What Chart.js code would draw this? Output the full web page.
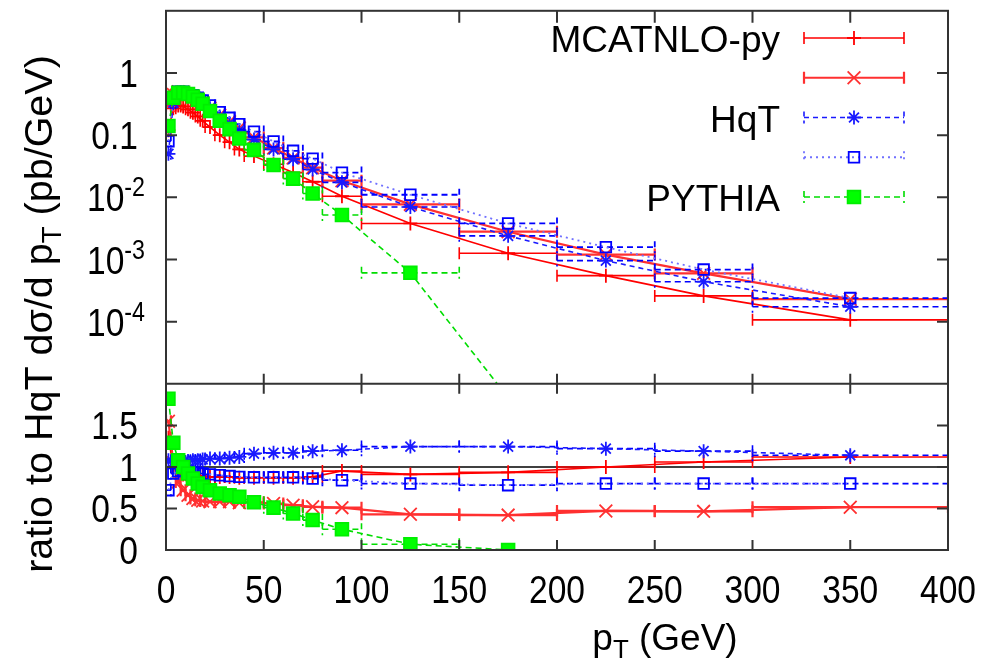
<!DOCTYPE html>
<html>
<head>
<meta charset="utf-8">
<script src="https://cdn.jsdelivr.net/npm/chart.js@4.4.1/dist/chart.umd.min.js"></script>
<style>
  html, body { margin: 0; padding: 0; background: #fff; }
  #wrap { position: relative; width: 987px; height: 670px; }
</style>
</head>
<body>
<div id="wrap"><canvas id="pt" width="987" height="670"></canvas></div>
<script>
// ---- pT bins (GeV) ----
const binLo  = [0, 2.5, 5, 7.5, 10, 12.5, 15, 17.5, 20, 25, 30, 35, 40, 50, 60, 70, 80, 100, 150, 200, 250, 300];
const binHi  = [2.5, 5, 7.5, 10, 12.5, 15, 17.5, 20, 25, 30, 35, 40, 50, 60, 70, 80, 100, 150, 200, 250, 300, 400];
const binMid = [1.25, 3.75, 6.25, 8.75, 11.25, 13.75, 16.25, 18.75, 22.5, 27.5, 32.5, 37.5, 45, 55, 65, 75, 90, 125, 175, 225, 275, 350];

// ---- top panel: dsigma/dpT (pb/GeV) ----
const mcPlus  = [0.12, 0.27, 0.30, 0.29, 0.26, 0.23, 0.20, 0.17, 0.135, 0.10, 0.077, 0.059, 0.046, 0.034, 0.025, 0.0178, 0.0104, 0.0038, 0.00126, 0.00055, 0.00026, 0.000107];
const mcCross = [0.30, 0.45, 0.50, 0.49, 0.46, 0.42, 0.38, 0.34, 0.27, 0.21, 0.165, 0.13, 0.092, 0.062, 0.043, 0.030, 0.0185, 0.0077, 0.0028, 0.0012, 0.0006, 0.00023];
const hqtStar = [0.05, 0.33, 0.46, 0.47, 0.45, 0.41, 0.37, 0.33, 0.27, 0.20, 0.155, 0.12, 0.085, 0.059, 0.041, 0.028, 0.0174, 0.0070, 0.0024, 0.00096, 0.00044, 0.000174];
const hqtBox  = [0.08, 0.38, 0.50, 0.50, 0.47, 0.44, 0.40, 0.36, 0.30, 0.235, 0.19, 0.15, 0.114, 0.079, 0.056, 0.042, 0.025, 0.011, 0.0038, 0.00158, 0.00069, 0.00024];
const pythia  = [0.14, 0.40, 0.48, 0.48, 0.46, 0.42, 0.37, 0.32, 0.245, 0.17, 0.125, 0.088, 0.058, 0.033, 0.020, 0.0115, 0.0052, 0.00061, 0.000006];

// ---- bottom panel: ratio to HqT ----
const ratioMcPlus  = [1.35, 1.0, 0.93, 0.91, 0.90, 0.90, 0.89, 0.89, 0.88, 0.88, 0.88, 0.87, 0.87, 0.87, 0.87, 0.88, 0.95, 0.91, 0.935, 1.0, 1.06, 1.12];
const ratioMcCross = [1.55, 1.05, 0.82, 0.72, 0.66, 0.62, 0.60, 0.59, 0.58, 0.58, 0.58, 0.57, 0.575, 0.56, 0.54, 0.52, 0.51, 0.43, 0.42, 0.47, 0.465, 0.515];
const ratioStar    = [1.08, 1.05, 1.05, 1.06, 1.07, 1.08, 1.08, 1.09, 1.10, 1.10, 1.11, 1.12, 1.16, 1.17, 1.17, 1.19, 1.20, 1.245, 1.245, 1.22, 1.19, 1.14];
const ratioBox     = [0.72, 0.92, 0.95, 0.95, 0.94, 0.94, 0.93, 0.92, 0.91, 0.90, 0.89, 0.88, 0.875, 0.875, 0.875, 0.86, 0.84, 0.80, 0.78, 0.80, 0.80, 0.80];
const ratioPythia  = [1.82, 1.29, 1.08, 1.0, 0.92, 0.86, 0.80, 0.76, 0.72, 0.68, 0.66, 0.64, 0.575, 0.51, 0.44, 0.36, 0.25, 0.07, 0.0];
const ratioOne = 1;

// ---- axes ----
const xTicks = [0, 50, 100, 150, 200, 250, 300, 350, 400];
const logTicks = [1, 0.1, 0.01, 0.001, 0.0001];
const logTickLabels = [['1', ''], ['0.1', ''], ['10', '-2'], ['10', '-3'], ['10', '-4']];
const ratioTicks = [0, 0.5, 1, 1.5];
const ratioTickLabels = ['0', '0.5', '1', '1.5'];
const legendLabels = ['MCATNLO-py', '', 'HqT', '', 'PYTHIA'];

const txtFont = (s) => `${s}px "Liberation Sans", Arial, sans-serif`;
const NARROW = 0.86;

function pts(vals) {
    return vals.map((v, i) => ({ x: binMid[i], y: v }));
}

// style of each curve, shared by both panels
const styles = [
    { color: '#ff0000', width: 1.6, dash: [], point: 'cross', radius: 7, fill: 'transparent', barColor: '#ff0000', barDash: [] },
    { color: '#ff3030', width: 2.2, dash: [], point: 'crossRot', radius: 9, fill: 'transparent', barColor: '#ff3030', barDash: [] },
    { color: '#1a1aff', width: 1.6, dash: [5, 4], point: 'star', radius: 7, fill: 'transparent', barColor: '#0000ff', barDash: [6, 4] },
    { color: '#7070ff', width: 1.8, dash: [2, 4], point: 'rect', radius: 7.5, fill: 'transparent', pointColor: '#0000ff', barColor: '#0000ff', barDash: [6, 4] },
    { color: '#00dd00', width: 1.6, dash: [6, 4], point: 'rect', radius: 9, fill: '#00ff00', pointColor: '#00ee00', barColor: '#00dd00', barDash: [6, 4] },
];

function makeSet(vals, k, axis) {
    const s = styles[k];
    return {
        data: pts(vals),
        yAxisID: axis,
        borderColor: s.color,
        borderWidth: s.width,
        borderDash: s.dash,
        pointStyle: s.point,
        pointRadius: s.radius,
        pointBorderWidth: 1.8,
        pointBorderColor: s.pointColor || s.color,
        pointBackgroundColor: s.fill,
        tension: 0,
        order: 10 - k,
        xLo: binLo, xHi: binHi,
        barColor: s.barColor, barDash: s.barDash,
    };
}

const datasets = [
    makeSet(mcPlus, 0, 'y'), makeSet(mcCross, 1, 'y'), makeSet(hqtStar, 2, 'y'), makeSet(hqtBox, 3, 'y'), makeSet(pythia, 4, 'y'),
    makeSet(ratioMcPlus, 0, 'ratio'), makeSet(ratioMcCross, 1, 'ratio'), makeSet(ratioStar, 2, 'ratio'), makeSet(ratioBox, 3, 'ratio'), makeSet(ratioPythia, 4, 'ratio'),
    { data: [{ x: xTicks[0], y: ratioOne }, { x: xTicks[xTicks.length - 1], y: ratioOne }], yAxisID: 'ratio',
      borderColor: '#000', borderWidth: 1.5, pointRadius: 0, order: 20 },
];

// clip each dataset to its own panel and draw the x error bars under it
const errorBars = {
    id: 'errorBars',
    beforeDatasetDraw(chart, args) {
        const { ctx, chartArea } = chart;
        const ys = args.meta.yScale, xs = args.meta.xScale;
        ctx.save();
        ctx.beginPath();
        ctx.rect(chartArea.left, ys.top, chartArea.right - chartArea.left, ys.bottom - ys.top);
        ctx.clip();
        const ds = chart.data.datasets[args.index];
        if (!ds.xLo) return;
        ctx.save();
        ctx.strokeStyle = ds.barColor;
        ctx.lineWidth = ds.borderWidth;
        ctx.setLineDash(ds.barDash);
        ds.data.forEach((p, i) => {
            const y = ys.getPixelForValue(p.y);
            const x0 = xs.getPixelForValue(ds.xLo[i]);
            const x1 = xs.getPixelForValue(ds.xHi[i]);
            ctx.beginPath();
            ctx.moveTo(x0, y); ctx.lineTo(x1, y);
            ctx.moveTo(x0, y - 6); ctx.lineTo(x0, y + 6);
            ctx.moveTo(x1, y - 6); ctx.lineTo(x1, y + 6);
            ctx.stroke();
        });
        ctx.restore();
    },
    afterDatasetDraw(chart) {
        chart.ctx.restore();
    }
};

// border, separator and inward tick marks
const frame = {
    id: 'frame',
    afterDatasetsDraw(chart) {
        const { ctx, chartArea: a, scales } = chart;
        const x = scales.x, y = scales.y, r = scales.ratio;
        ctx.save();
        ctx.strokeStyle = '#333';
        ctx.lineWidth = 2;
        ctx.strokeRect(a.left, a.top, a.right - a.left, a.bottom - a.top);
        ctx.beginPath();
        ctx.moveTo(a.left, y.bottom); ctx.lineTo(a.right, y.bottom);
        xTicks.forEach(v => {
            const px = x.getPixelForValue(v);
            ctx.moveTo(px, a.top); ctx.lineTo(px, a.top + 12);
            ctx.moveTo(px, y.bottom - 10); ctx.lineTo(px, y.bottom + 10);
            ctx.moveTo(px, a.bottom); ctx.lineTo(px, a.bottom - 10);
        });
        logTicks.forEach(v => {
            const py = y.getPixelForValue(v);
            ctx.moveTo(a.left, py); ctx.lineTo(a.left + 11, py);
            ctx.moveTo(a.right, py); ctx.lineTo(a.right - 11, py);
        });
        ratioTicks.forEach(v => {
            const py = r.getPixelForValue(v);
            ctx.moveTo(a.left, py); ctx.lineTo(a.left + 11, py);
            ctx.moveTo(a.right, py); ctx.lineTo(a.right - 11, py);
        });
        ctx.stroke();
        ctx.restore();
    }
};

// numbers are set in a slightly condensed face, like the original
function fillNum(ctx, text, x, y, size) {
    ctx.save();
    ctx.font = txtFont(size);
    ctx.translate(x, y);
    ctx.scale(NARROW, 1);
    ctx.fillText(text, 0, 0);
    ctx.restore();
    ctx.font = txtFont(size);
    return ctx.measureText(text).width * NARROW;
}

// text with an optional subscript part
function richWidth(ctx, parts, size) {
    let w = 0;
    parts.forEach(p => {
        ctx.font = txtFont(p.sub ? size * 0.7 : size);
        w += ctx.measureText(p.t).width;
    });
    return w;
}
function drawRich(ctx, parts, x, y, size) {
    parts.forEach(p => {
        ctx.font = txtFont(p.sub ? size * 0.7 : size);
        ctx.fillText(p.t, x, p.sub ? y + size * 0.22 : y);
        x += ctx.measureText(p.t).width;
    });
}

const labels = {
    id: 'labels',
    afterDraw(chart) {
        const { ctx, chartArea: a, scales } = chart;
        ctx.save();
        ctx.fillStyle = '#000';
        ctx.textBaseline = 'alphabetic';

        // x tick labels
        ctx.textAlign = 'center';
        xTicks.forEach(v => fillNum(ctx, String(v), scales.x.getPixelForValue(v), a.bottom + 53, 39));

        // log tick labels with exponents
        ctx.textAlign = 'right';
        logTicks.forEach((v, i) => {
            const py = scales.y.getPixelForValue(v) + 14;
            const [base, exp] = logTickLabels[i];
            if (!exp) {
                fillNum(ctx, base, 138, py, 39);
            } else {
                const ew = fillNum(ctx, exp, 145, py - 15, 27);
                fillNum(ctx, base, 145 - ew, py, 39);
            }
        });

        // ratio tick labels
        ratioTicks.forEach((v, i) => fillNum(ctx, ratioTickLabels[i], 138, scales.ratio.getPixelForValue(v) + 14, 39));

        // axis titles
        ctx.textAlign = 'left';
        const xt = [{ t: 'p' }, { t: 'T', sub: true }, { t: ' (GeV)' }];
        drawRich(ctx, xt, 665 - richWidth(ctx, xt, 37) / 2, a.bottom + 100, 37);

        const yt = [{ t: 'ratio to HqT d\u03c3/d p' }, { t: 'T', sub: true }, { t: ' (pb/GeV)' }];
        ctx.save();
        ctx.translate(52, 314);
        ctx.rotate(-Math.PI / 2);
        drawRich(ctx, yt, -richWidth(ctx, yt, 39.5) / 2, 0, 39.5);
        ctx.restore();
        ctx.restore();
    }
};

// key in the top right corner of the upper panel
const key = {
    id: 'key',
    afterDraw(chart) {
        const { ctx } = chart;
        const helpers = Chart.helpers;
        ctx.save();
        legendLabels.forEach((lab, i) => {
            const s = styles[i];
            const ly = 38 + i * 39.75;
            ctx.font = txtFont(37);
            ctx.fillStyle = '#000';
            ctx.textAlign = 'right';
            ctx.textBaseline = 'alphabetic';
            if (lab) ctx.fillText(lab, 780, ly + 14);
            ctx.strokeStyle = s.color;
            ctx.lineWidth = s.width;
            ctx.setLineDash(s.dash);
            ctx.beginPath();
            ctx.moveTo(804, ly); ctx.lineTo(904, ly);
            ctx.moveTo(804, ly - 6); ctx.lineTo(804, ly + 6);
            ctx.moveTo(904, ly - 6); ctx.lineTo(904, ly + 6);
            ctx.stroke();
            ctx.setLineDash([]);
            ctx.strokeStyle = s.pointColor || s.color;
            ctx.fillStyle = s.fill;
            ctx.lineWidth = 1.8;
            helpers.drawPoint(ctx, { pointStyle: s.point, radius: s.radius, rotation: 0, borderWidth: 1.8 }, 854, ly);
        });
        ctx.restore();
    }
};

new Chart(document.getElementById('pt'), {
    type: 'line',
    data: { datasets },
    options: {
        responsive: false,
        animation: false,
        layout: { padding: { left: 166, right: 39, top: 8, bottom: 120 } },
        plugins: { legend: { display: false }, tooltip: { enabled: false } },
        scales: {
            x: { type: 'linear', min: 0, max: 400, display: false },
            y: { type: 'logarithmic', min: 1e-5, max: 10, position: 'left', stack: 'pt', stackWeight: 375, weight: 1, display: false },
            ratio: { type: 'linear', axis: 'y', min: 0, max: 2, position: 'left', stack: 'pt', stackWeight: 167, weight: 0, display: false },
        }
    },
    plugins: [errorBars, frame, labels, key]
});
</script>
</body>
</html>
